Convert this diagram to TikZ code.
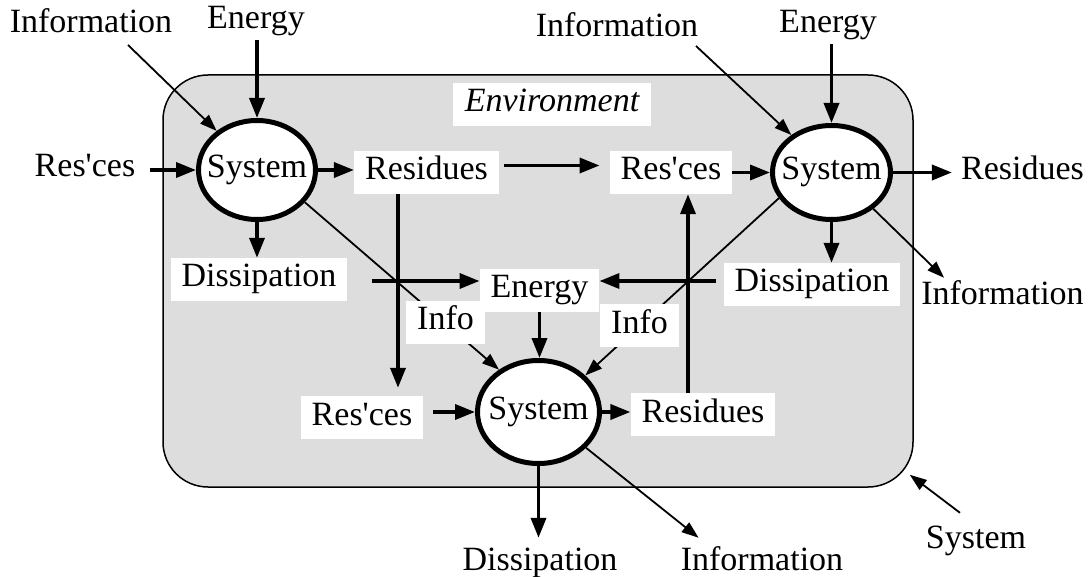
\documentclass[tikz,border=0pt]{standalone}
\usepackage{fontspec}
\setmainfont{Liberation Serif}[Ligatures=TeXOff]
\usetikzlibrary{arrows.meta,shapes.geometric,calc}
\definecolor{envgray}{RGB}{221,221,221}
\pgfdeclarelayer{bg}
\pgfdeclarelayer{lines}
\pgfsetlayers{bg,lines,main}
\begin{document}
\begin{tikzpicture}[x=1pt,y=-1pt,font=\fontsize{34}{40}\selectfont,
  lab/.style={inner sep=3pt,text height=23pt,text depth=8pt,anchor=base},
  wbox/.style={fill=white,inner xsep=11pt,inner ysep=6pt,text height=23pt,text depth=8pt,anchor=base},
  sysnode/.style={ellipse,draw,line width=5pt,fill=white,inner xsep=-15pt,inner ysep=-10pt,text height=23pt,text depth=8pt},
  thk/.style={line width=3.6pt,-{Triangle[length=20pt,width=15pt]}},
  thn/.style={line width=1.8pt,-{Triangle[length=17pt,width=12pt]}}]
\useasboundingbox (0,0) rectangle (1092,577);
\begin{pgfonlayer}{bg}
\node[draw,line width=1.5pt,fill=envgray,rounded corners=45pt,minimum width=750pt,minimum height=412pt,inner sep=0pt] (frame) at (538,281) {};
\end{pgfonlayer}
% nodes
\node[lab] (iTL) at (91,33) {Information};
\node[lab] (eTL) at (256,29) {Energy};
\node[lab] (rL) at (85,177) {Res'ces};
\node[sysnode,minimum width=117pt,minimum height=99pt] (s1) at (257,170) {System};
\node[wbox] (resTL) at (426.5,180) {Residues};
\node[wbox] (rcTR) at (671,180) {Res'ces};
\node[sysnode,minimum width=118pt,minimum height=94pt] (s2) at (831.5,172.5) {System};
\node[lab] (resR) at (1022.5,180) {Residues};
\node[lab] (iTR) at (617,37) {Information};
\node[lab] (eTR) at (828,33) {Energy};
\node[wbox,inner xsep=12pt] (env) at (552,112) {\itshape Environment};
\node[wbox] (dL) at (259,287) {Dissipation};
\node[wbox] (eC) at (539.5,298) {Energy};
\node[wbox] (dR) at (812,292) {Dissipation};
\node[lab] (iR) at (1002.5,305) {Information};
\node[wbox] (infoL) at (445.5,330) {Info};
\node[wbox] (infoR) at (639.5,333) {Info};
\node[wbox] (rcB) at (362,425) {Res'ces};
\node[sysnode,minimum width=122pt,minimum height=103pt] (s3) at (538.5,412) {System};
\node[wbox] (resB) at (703,422) {Residues};
\node[lab] (dB) at (540,570) {Dissipation};
\node[lab] (iB) at (762,570) {Information};
\node[lab] (sysO) at (976,548) {System};
% connectors
\begin{pgfonlayer}{lines}
\coordinate (c1) at (128,45);
\coordinate (c2) at (696,46);
\coordinate (hL) at (372,281);
\coordinate (hR) at (716,281);
\coordinate (vL) at (398,0);
\coordinate (vR) at (688,0);
\draw[thk] (s1.north |- eTL.south) -- (s1.north);
\draw[thn] (c1) -- (s1);
\draw[thk] ($(rL.east |- s1.west)+(12,0)$) -- (s1.west);
\draw[thk] (s1.east) -- (s1.east -| resTL.west);
\draw[thk] ($(resTL.east)+(5,-7)$) -- ($(rcTR.west)+(-10,-7)$);
\draw[thk] (rcTR.east) -- (rcTR.east -| s2.west);
\draw[thk] (s2.east) -- ($(s2.east -| resR.west)+(-6,0)$);
\draw[thk] (s2.north |- eTR.south) -- (s2.north);
\draw[thn] (c2) -- (s2);
\draw[thk] (s1.south) -- (s1.south |- dL.north);
\draw[thk] (hL) -- (hL -| eC.west);
\draw[thk] (hR) -- (hR -| eC.east);
\draw[thk] (s2.south) -- (s2.south |- dR.north);
\draw[thk] (eC.south) -- (eC.south |- s3.north);
\draw[thk] (resTL.south -| vL) -- ($(rcB.north -| vL)+(0,-8)$);
\draw[thk] (resB.north -| vR) -- (rcTR.south -| vR);
\draw[thk] ($(rcB.east |- s3.west)+(10,0)$) -- (s3.west);
\draw[thk] (s3.east) -- (s3.east -| resB.west);
\draw[thn] (s1.-34) -- (s3.133);
\draw[thn] (s2.206) -- (s3.38);
\draw[thn] (s2.-41) -- ($(iR.north west)+(26,-1)$);
\draw[thk] (s3.south) -- ($(s3.south |- dB.north)+(0,-6)$);
\draw[thn] (s3.-37) -- ($(iB.north west)+(21,-6)$);
\draw[thn] ($(sysO.north)+(-16,-9)$) -- ($(frame.south east)+(-4,-13)$);
\end{pgfonlayer}
\end{tikzpicture}
\end{document}
